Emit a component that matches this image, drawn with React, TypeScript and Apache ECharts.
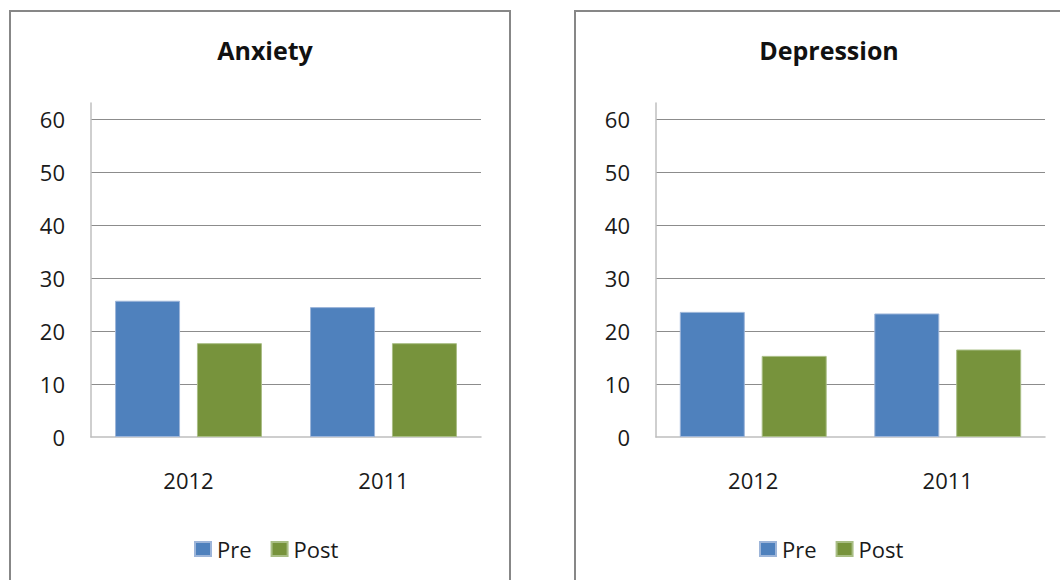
import React, { useEffect, useRef } from "react";
import * as echarts from "echarts";

const categories = ["2012", "2011"];
const seriesNames = ["Pre", "Post"];
const anxietyPre = [25.7, 24.5];
const anxietyPost = [17.7, 17.7];
const depressionPre = [23.6, 23.3];
const depressionPost = [15.3, 16.5];
const titles = ["Anxiety", "Depression"];
const yMax = 63;
const yInterval = 10;

const FONT = "'Open Sans', 'Noto Sans', sans-serif";
const BLUE = "#4F81BD";
const GREEN = "#77933C";

export default function App() {
  const ref = useRef<HTMLDivElement>(null);
  useEffect(() => {
    if (!ref.current) return;
    const chart = echarts.init(ref.current, undefined, { renderer: "svg" });
    const grids = [
      { left: 91, top: 103, width: 390, height: 334 },
      { left: 656, top: 103, width: 389, height: 334 },
    ];
    const panelCenters = [260, 824];
    const legendLefts = [189, 754];
    const data = [
      [anxietyPre, anxietyPost],
      [depressionPre, depressionPost],
    ];
    const option: any = {
      animation: false,
      backgroundColor: "#ffffff",
      title: titles.map((t, i) => ({
        text: t,
        left: panelCenters[i],
        textAlign: "center",
        top: 31,
        textStyle: {
          fontFamily: FONT,
          fontWeight: "bold",
          fontSize: 25,
          color: "#111",
          lineHeight: 28,
        },
      })),
      legend: [0, 1].map((i) => ({
        data: seriesNames,
        left: legendLefts[i],
        top: 531,
        icon: "rect",
        itemWidth: 16,
        itemHeight: 14,
        itemGap: 19,
        textStyle: { fontFamily: FONT, fontSize: 22, color: "#1a1a1a", lineHeight: 26, padding: [0, 0, 0, 1] },
      })),
      grid: grids,
      xAxis: [0, 1].map((i) => ({
        type: "category",
        gridIndex: i,
        data: categories,
        axisLine: { show: true, lineStyle: { color: "#bfbfbf", width: 1.5 } },
        axisTick: { show: false },
        axisLabel: {
          fontFamily: FONT,
          fontSize: 22,
          color: "#1a1a1a",
          margin: 30,
          lineHeight: 26,
        },
      })),
      yAxis: [0, 1].map((i) => ({
        type: "value",
        gridIndex: i,
        min: 0,
        max: yMax,
        interval: yInterval,
        axisLine: { show: true, lineStyle: { color: "#bfbfbf", width: 1.5 } },
        axisTick: { show: false },
        axisLabel: {
          fontFamily: FONT,
          fontSize: 22,
          color: "#1a1a1a",
          margin: 26,
          showMaxLabel: false,
          formatter: (v: number) => (v % yInterval === 0 ? String(v) : ""),
        },
        splitLine: {
          show: true,
          showMinLine: false,
          showMaxLine: false,
          lineStyle: { color: "#8c8c8c", width: 1 },
        },
      })),
      series: [0, 1].flatMap((i) => [
        {
          name: "Pre",
          type: "bar",
          xAxisIndex: i,
          yAxisIndex: i,
          data: data[i][0],
          barWidth: 65,
          barGap: "26%",
          itemStyle: { color: BLUE, borderColor: "#9db5d9", borderWidth: 1 },
        },
        {
          name: "Post",
          type: "bar",
          xAxisIndex: i,
          yAxisIndex: i,
          data: data[i][1],
          barWidth: 65,
          barGap: "26%",
          itemStyle: { color: GREEN, borderColor: "#a9be85", borderWidth: 1 },
        },
      ]),
      graphic: [
        {
          type: "rect",
          shape: { x: 10, y: 11, width: 500, height: 620 },
          style: { fill: "none", stroke: "#878787", lineWidth: 2 },
          z: 100,
        },
        {
          type: "rect",
          shape: { x: 575, y: 11, width: 520, height: 620 },
          style: { fill: "none", stroke: "#878787", lineWidth: 2 },
          z: 100,
        },
      ],
    };
    chart.setOption(option);
    return () => chart.dispose();
  }, []);
  return (
    <div
      ref={ref}
      style={{ position: "fixed", left: 0, top: 0, width: 1060, height: 580 }}
    />
  );
}
